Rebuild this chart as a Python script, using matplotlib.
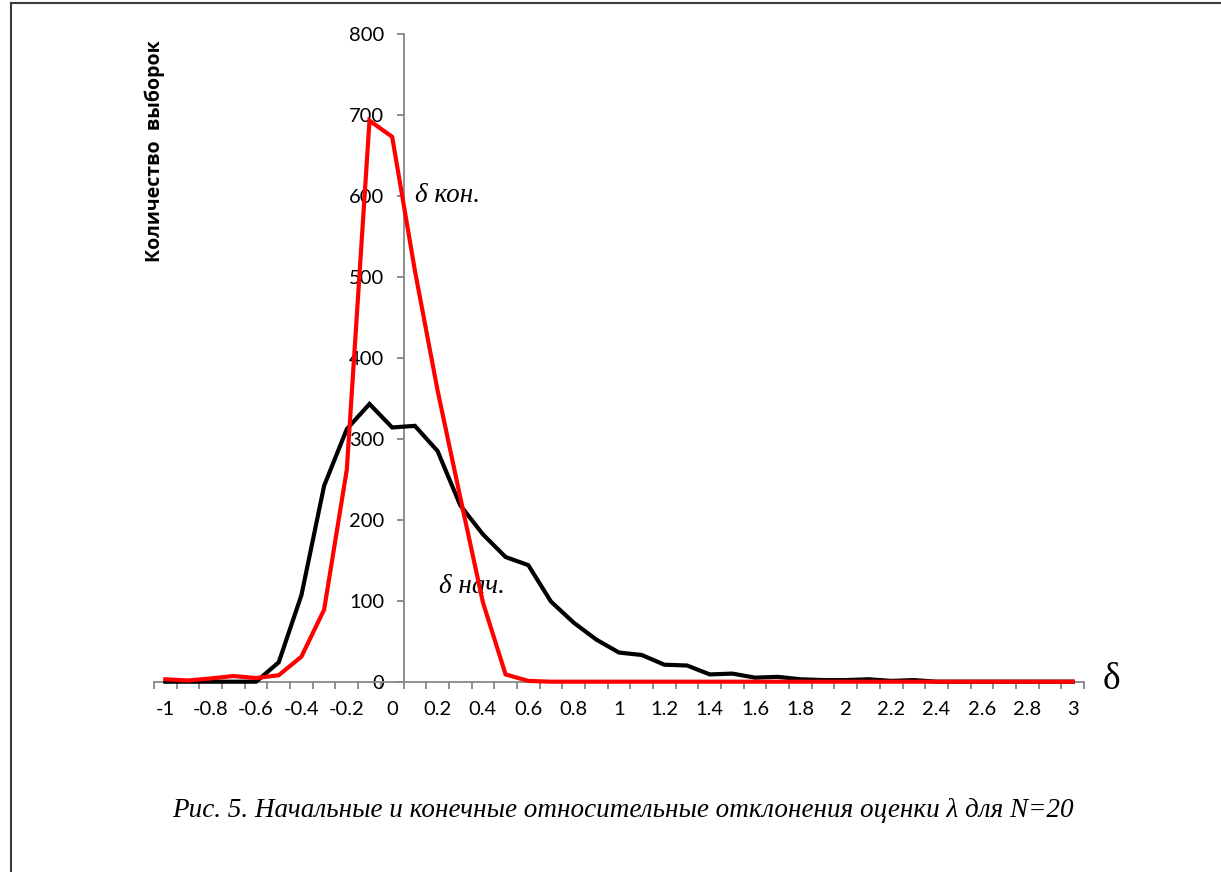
import matplotlib
matplotlib.use("Agg")
import matplotlib.pyplot as plt
from matplotlib.ticker import FixedLocator, NullFormatter
import numpy as np

# ---- data ----
delta = [-1.0, -0.9, -0.8, -0.7, -0.6, -0.5, -0.4, -0.3, -0.2, -0.1,
         0.0, 0.1, 0.2, 0.3, 0.4, 0.5, 0.6, 0.7, 0.8, 0.9,
         1.0, 1.1, 1.2, 1.3, 1.4, 1.5, 1.6, 1.7, 1.8, 1.9,
         2.0, 2.1, 2.2, 2.3, 2.4, 2.5, 2.6, 2.7, 2.8, 2.9, 3.0]
delta_nach = [0, 0, 0, 0, 0, 24, 107, 242, 312, 343,
              314, 316, 285, 218, 182, 154, 144, 99, 73, 52,
              36, 33, 21, 20, 9, 10, 5, 6, 3, 2,
              2, 3, 1, 2, 0, 0, 0, 0, 0, 0, 0]
delta_kon = [3, 1.5, 4, 7, 4.5, 8, 31, 89, 262, 693,
             673, 508, 360, 228, 98, 9, 1, 0, 0, 0,
             0, 0, 0, 0, 0, 0, 0, 0, 0, 0,
             0, 0, 0, 0, 0, 0, 0, 0, 0, 0, 0]
y_ticks = [0, 100, 200, 300, 400, 500, 600, 700, 800]

def fmt(v):
    s = ("%.1f" % v).rstrip("0").rstrip(".")
    return "0" if s in ("-0", "0") else s

tick_font = ["Lato", "DejaVu Sans"]
axis_gray = "#868686"

fig = plt.figure(figsize=(12.21, 8.72), dpi=100)
ax = fig.add_axes([154 / 1221, 1 - 681.7 / 872, (1084 - 154) / 1221, (681.7 - 34) / 872])

idx = np.arange(len(delta))
ax.plot(idx, delta_nach, color="black", lw=3.0, solid_joinstyle="miter", clip_on=False, zorder=3)
ax.plot(idx, delta_kon, color="#FF0000", lw=3.0, solid_joinstyle="miter", clip_on=False, zorder=4)

ax.set_xlim(-0.5, len(delta) - 0.5)
ax.set_ylim(0, 800)

for s in ("top", "right"):
    ax.spines[s].set_visible(False)
ax.spines["left"].set_position(("data", 10.5))
ax.spines["left"].set_color(axis_gray)
ax.spines["bottom"].set_color(axis_gray)
ax.spines["left"].set_linewidth(1.3)
ax.spines["bottom"].set_linewidth(1.3)

# x: labels every second category, tick marks between categories
major = idx[::2]
ax.xaxis.set_major_locator(FixedLocator(major))
ax.set_xticklabels([fmt(delta[i]) for i in major], family=tick_font, fontsize=14.5)
ax.xaxis.set_minor_locator(FixedLocator(np.arange(-0.5, len(delta), 1.0)))
ax.xaxis.set_minor_formatter(NullFormatter())
ax.tick_params(axis="x", which="major", length=0, pad=14)
ax.tick_params(axis="x", which="minor", length=5, width=1.3, color=axis_gray, direction="out")

ax.set_yticks(y_ticks)
ax.set_yticklabels([str(v) for v in y_ticks], family=tick_font, fontsize=14.5)
ax.tick_params(axis="y", length=5, width=1.3, color=axis_gray, direction="out", pad=9)

# annotations
ax.text(11.0, 601, "δ кон.", family=["Liberation Serif", "DejaVu Serif"], style="italic",
        fontsize=19.5, ha="left", va="center")
ax.text(12.05, 117, "δ нач.", family=["Liberation Serif", "DejaVu Serif"], style="italic",
        fontsize=19.5, ha="left", va="center")
ax.text(41.7, 2, "δ", family=["Liberation Serif", "DejaVu Serif"], fontsize=27,
        ha="center", va="center", clip_on=False)

fig.text(155 / 1221, 1 - 151 / 872, "Количество  выборок", rotation=90,
         family=["Open Sans", "DejaVu Sans"], fontweight="bold", fontsize=14,
         ha="center", va="center")

fig.text(623 / 1221, 1 - 810 / 872,
         "Рис. 5. Начальные и конечные относительные отклонения оценки λ для N=20",
         family=["Liberation Serif", "DejaVu Serif"], style="italic", fontsize=19.5,
         ha="center", va="center")

# frame lines (left and top only)
fig.add_artist(plt.Line2D([10.5 / 1221, 10.5 / 1221], [0, 1 - 3.5 / 872], color="#3a3a3a", lw=1.5,
                          transform=fig.transFigure))
fig.add_artist(plt.Line2D([10.5 / 1221, 1], [1 - 3.5 / 872, 1 - 3.5 / 872], color="#3a3a3a", lw=1.5,
                          transform=fig.transFigure))

fig.savefig("out.png", dpi=100)
